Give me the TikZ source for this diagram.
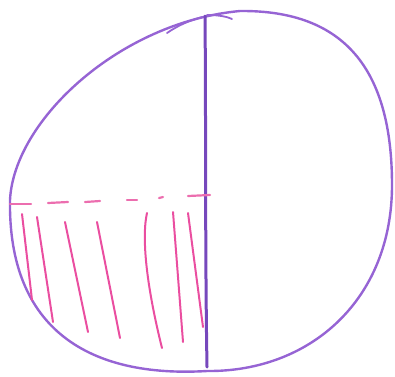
\documentclass[tikz,border=0pt]{standalone}
\definecolor{outc}{RGB}{150,100,212}
\definecolor{axc}{RGB}{118,72,188}
\definecolor{pinkc}{RGB}{234,78,160}
\definecolor{dashc}{RGB}{236,110,175}
\begin{document}
\begin{tikzpicture}[x=1pt,y=-1pt,
  outline/.style={draw=outc, line width=2.4pt, line cap=round, line join=round},
  axisline/.style={draw=axc, line width=3pt, line cap=round},
  hatch/.style={draw=pinkc, line width=2pt, line cap=round},
  dashes/.style={draw=dashc, line width=2.2pt, line cap=round}]
\useasboundingbox (0,0) rectangle (395,376);
% outer hand-drawn circle
\draw[outline] (10,200) .. controls (14,120) and (120,22) .. (240,11)
  .. controls (345,10) and (392,70) .. (392,185)
  .. controls (392,300) and (310,372) .. (207,371)
  .. controls (90,378) and (8,330) .. cycle;
\draw[outline, line width=1.8pt] (167,33) .. controls (180,24) and (195,18) .. (212,15);
\draw[outline, line width=1.8pt] (207,15) .. controls (220,15) and (228,17) .. (232,19);
% vertical line
\draw[axisline] (205,16) .. controls (206,120) and (205,250) .. (207,367);
% dashed horizontal line
\draw[dashes] (10,204) -- (31,204);
\draw[dashes] (48,203) -- (68,202);
\draw[dashes] (85,202) -- (100,201);
\draw[dashes] (127,200) -- (137,200);
\draw[dashes] (159,198) -- (163,197);
\draw[dashes] (188,196) -- (210,195);
% hatching
\draw[hatch] (22,214) -- (32,300);
\draw[hatch] (37,217) -- (53,322);
\draw[hatch] (65,222) -- (88,332);
\draw[hatch] (97,222) -- (120,338);
\draw[hatch] (147,213) .. controls (142,235) and (145,280) .. (162,348);
\draw[hatch] (173,212) -- (183,342);
\draw[hatch] (188,213) -- (203,327);
\end{tikzpicture}
\end{document}
